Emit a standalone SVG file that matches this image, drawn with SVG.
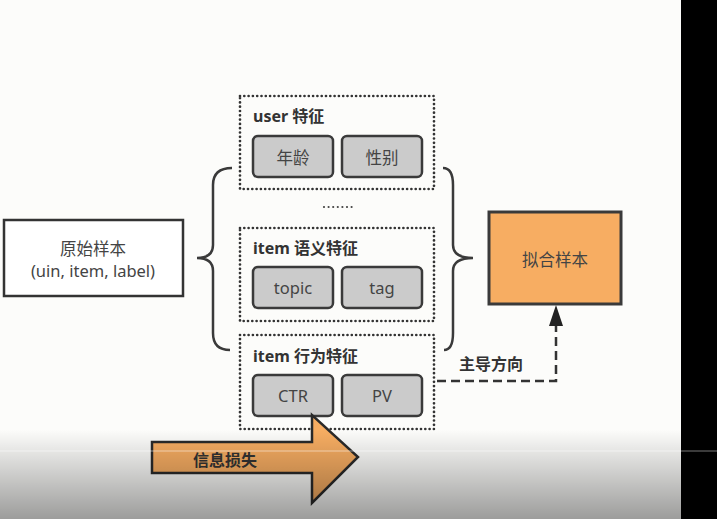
<svg xmlns="http://www.w3.org/2000/svg" width="717" height="519" viewBox="0 0 717 519">
<defs>
<style>
.t{font-family:"Noto Sans","Open Sans","Noto Sans CJK SC",sans-serif;fill:#444;font-size:16.5px;text-anchor:middle;dominant-baseline:central}
.h{font-family:"Noto Sans","Open Sans","Noto Sans CJK SC",sans-serif;fill:#333;font-size:16px;font-weight:bold}
.dot{fill:none;stroke:#333;stroke-width:2.7;stroke-dasharray:0 4.3;stroke-linecap:round}
.g{fill:#cbcbcb;stroke:#3a3a3a;stroke-width:2.5}
.br{fill:none;stroke:#3a3a3a;stroke-width:2.5}
</style>
<linearGradient id="fade" x1="0" y1="0" x2="0" y2="1">
<stop offset="0" stop-color="#000" stop-opacity="0"/>
<stop offset="1" stop-color="#000" stop-opacity="0.38"/>
</linearGradient>
</defs>
<rect width="717" height="519" fill="#fcfcfa"/>

<g id="connectors">
<path class="br" d="M232,168 Q213,168 213,185 L213,245 Q213,258 197,258 Q213,258 213,271 L213,333 Q213,350 230,350"/>
<path class="br" d="M443,168 Q453,168 453,185 L453,245 Q453,258 473,258 Q453,258 453,271 L453,333 Q453,350 444,350"/>
<path d="M437,381 L556,381 L556,318" fill="none" stroke="#333" stroke-width="2.5" stroke-dasharray="9 5"/>
<path d="M549,326 L556,305 L563,326 z" fill="#222"/>
<text class="h" x="459" y="370">主导方向</text>
</g>

<g id="raw">
<rect x="4" y="220" width="179" height="76" fill="#fff" stroke="#333" stroke-width="2.5"/>
<text class="t" x="93" y="248">原始样本</text>
<text class="t" x="93" y="270" font-size="15.5">(uin, item, label)</text>
</g>

<g id="user">
<rect class="dot" x="240" y="96" width="194" height="93"/>
<text class="h" x="253" y="122">user 特征</text>
<rect class="g" x="253" y="136" width="80" height="41" rx="5"/>
<text class="t" x="293" y="157">年龄</text>
<rect class="g" x="342" y="136" width="80" height="41" rx="5"/>
<text class="t" x="382" y="157">性别</text>
</g>

<path d="M324,207 L352,207" fill="none" stroke="#444" stroke-width="2.2" stroke-dasharray="0 4.6" stroke-linecap="round"/>

<g id="item-sem">
<rect class="dot" x="240" y="228" width="194" height="93"/>
<text class="h" x="253" y="254">item 语义特征</text>
<rect class="g" x="253" y="267" width="80" height="41" rx="5"/>
<text class="t" x="293" y="287">topic</text>
<rect class="g" x="342" y="267" width="80" height="41" rx="5"/>
<text class="t" x="382" y="287">tag</text>
</g>

<g id="item-beh">
<rect class="dot" x="240" y="335" width="194" height="94"/>
<text class="h" x="253" y="362">item 行为特征</text>
<rect class="g" x="253" y="375" width="80" height="41" rx="5"/>
<text class="t" x="293" y="395">CTR</text>
<rect class="g" x="342" y="375" width="80" height="41" rx="5"/>
<text class="t" x="382" y="395">PV</text>
</g>

<g id="fit">
<rect x="489" y="212" width="132" height="92" fill="#f7ad62" stroke="#3a3a3a" stroke-width="3"/>
<text class="t" x="555" y="259">拟合样本</text>
</g>

<g id="loss">
<path d="M152,442 L312,442 L312,415 L358,457 L312,503 L312,473 L152,473 z" fill="#f7ad62" stroke="#2a2a2a" stroke-width="2.5"/>
<text class="h" x="193" y="466">信息损失</text>
</g>

<rect x="0" y="430" width="717" height="89" fill="url(#fade)"/>
<line x1="0" y1="451" x2="717" y2="451" stroke="#fff" stroke-opacity="0.5" stroke-width="1"/>
<rect x="681" y="0" width="36" height="519" fill="#000"/>
<line x1="681" y1="451" x2="717" y2="451" stroke="#777" stroke-width="1"/>
</svg>
